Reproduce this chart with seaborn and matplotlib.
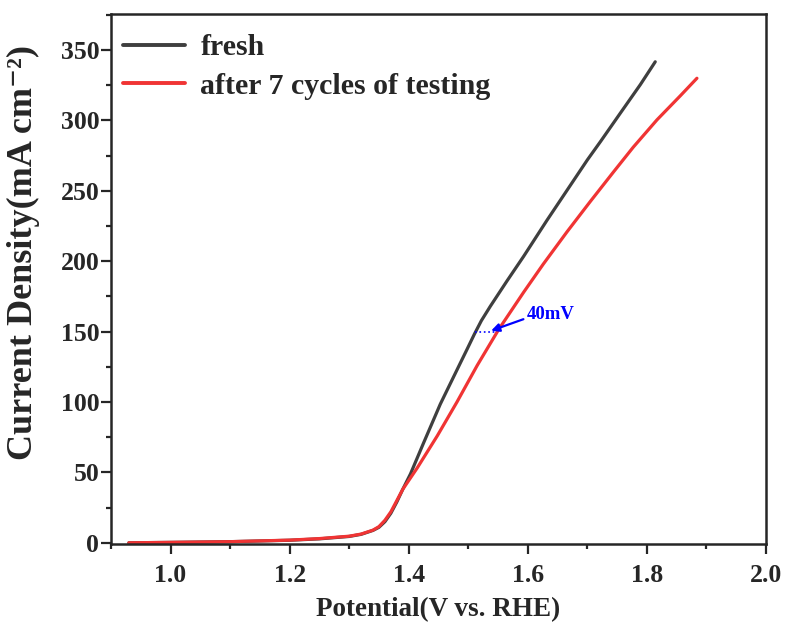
import numpy as np
import pandas as pd
import matplotlib
matplotlib.use("Agg")
import matplotlib.pyplot as plt
from matplotlib.ticker import MultipleLocator
import seaborn as sns

fresh_v = [0.93, 1.00, 1.10, 1.20, 1.25, 1.30, 1.32, 1.34, 1.35, 1.36, 1.37, 1.38, 1.39,
           1.403, 1.425, 1.453, 1.487, 1.498, 1.510, 1.522, 1.537, 1.565, 1.593, 1.632,
           1.666, 1.700, 1.722, 1.755, 1.789, 1.814]
fresh_j = [0.0, 0.3, 0.8, 1.8, 2.8, 4.5, 6.0, 8.8, 11.0, 15.0, 21.0, 29.0, 38.0,
           49.0, 71.0, 98.5, 128.0, 137.5, 148.0, 157.8, 168.0, 186.0, 203.5, 229.0,
           250.5, 272.0, 285.0, 305.0, 325.5, 341.7]

aged_v = [0.93, 1.00, 1.10, 1.20, 1.25, 1.30, 1.32, 1.34, 1.35, 1.36, 1.37, 1.38, 1.39,
          1.414, 1.448, 1.481, 1.515, 1.551, 1.593, 1.626, 1.666, 1.705, 1.744, 1.777,
          1.817, 1.856, 1.884]
aged_j = [0.0, 0.3, 0.8, 1.9, 3.0, 4.7, 6.2, 9.0, 11.5, 16.0, 22.0, 30.0, 38.0,
          53.0, 76.0, 100.0, 126.0, 151.5, 178.0, 198.0, 221.0, 242.5, 263.5, 281.0,
          300.5, 317.5, 330.0]

labels = ["fresh", "after 7 cycles of testing"]
colors = ["#3f3f3f", "#F03434"]
x_ticks = [1.0, 1.2, 1.4, 1.6, 1.8, 2.0]
y_ticks = [0, 50, 100, 150, 200, 250, 300, 350]
annot_v = [1.512, 1.549]
annot_j = 150
annot_text = "40mV"

df = pd.concat([
    pd.DataFrame({"V": fresh_v, "J": fresh_j, "sample": labels[0]}),
    pd.DataFrame({"V": aged_v, "J": aged_j, "sample": labels[1]}),
], ignore_index=True)

sns.set_style("ticks")
plt.rcParams["font.family"] = ["Liberation Serif", "DejaVu Serif"]
plt.rcParams["font.weight"] = "bold"
plt.rcParams["axes.labelweight"] = "bold"

fig = plt.figure(figsize=(7.9, 6.23), dpi=100)
ax = fig.add_axes([111 / 790, 1 - 543.5 / 623, (766 - 111) / 790, (543.5 - 13.5) / 623])

sns.lineplot(data=df, x="V", y="J", hue="sample", palette=colors, sort=False,
             linewidth=2.3, ax=ax, estimator=None)

ax.plot(annot_v, [annot_j, annot_j], color="blue", linestyle=":", linewidth=1.2)
ax.annotate("", xy=(1.534, annot_j), xytext=(1.597, 159.5),
            arrowprops=dict(arrowstyle="-|>", color="blue", lw=1.6, mutation_scale=12))
ax.text(1.599, 159, annot_text, color="blue", fontsize=13.5, fontweight="bold",
        va="baseline", ha="left")

ax.set_xlim(0.9, 2.0)
ax.set_ylim(-0.5, 376)
ax.set_xticks(x_ticks)
ax.set_yticks(y_ticks)
ax.set_xticklabels([f"{t:.1f}" for t in x_ticks])
ax.set_yticklabels([str(t) for t in y_ticks])
ax.xaxis.set_minor_locator(MultipleLocator(0.1))
ax.yaxis.set_minor_locator(MultipleLocator(25))
ax.tick_params(which="major", direction="out", length=7, width=1.6, labelsize=18.5)
ax.tick_params(which="minor", direction="out", length=3.6, width=1.6)
ax.tick_params(axis="x", which="major", pad=8)
ax.tick_params(axis="y", which="major", pad=1.5)
for lab in ax.get_xticklabels() + ax.get_yticklabels():
    lab.set_fontweight("bold")
for s in ax.spines.values():
    s.set_visible(True)
    s.set_linewidth(1.8)

ax.set_xlabel("Potential(V vs. RHE)", fontsize=19.5, fontweight="bold", labelpad=7)
ax.set_ylabel("Current Density(mA cm\u207b\u00b2)", fontsize=26, fontweight="bold")
ax.yaxis.set_label_coords(-0.108, 0.55)

leg = ax.legend(loc="upper left", bbox_to_anchor=(-0.014, 1.0), frameon=False,
                fontsize=21.5, handlelength=2.1, handletextpad=0.5, labelspacing=0.38,
                borderaxespad=0.3)
for line in leg.get_lines():
    line.set_linewidth(2.8)

fig.savefig("out.png", dpi=100)
